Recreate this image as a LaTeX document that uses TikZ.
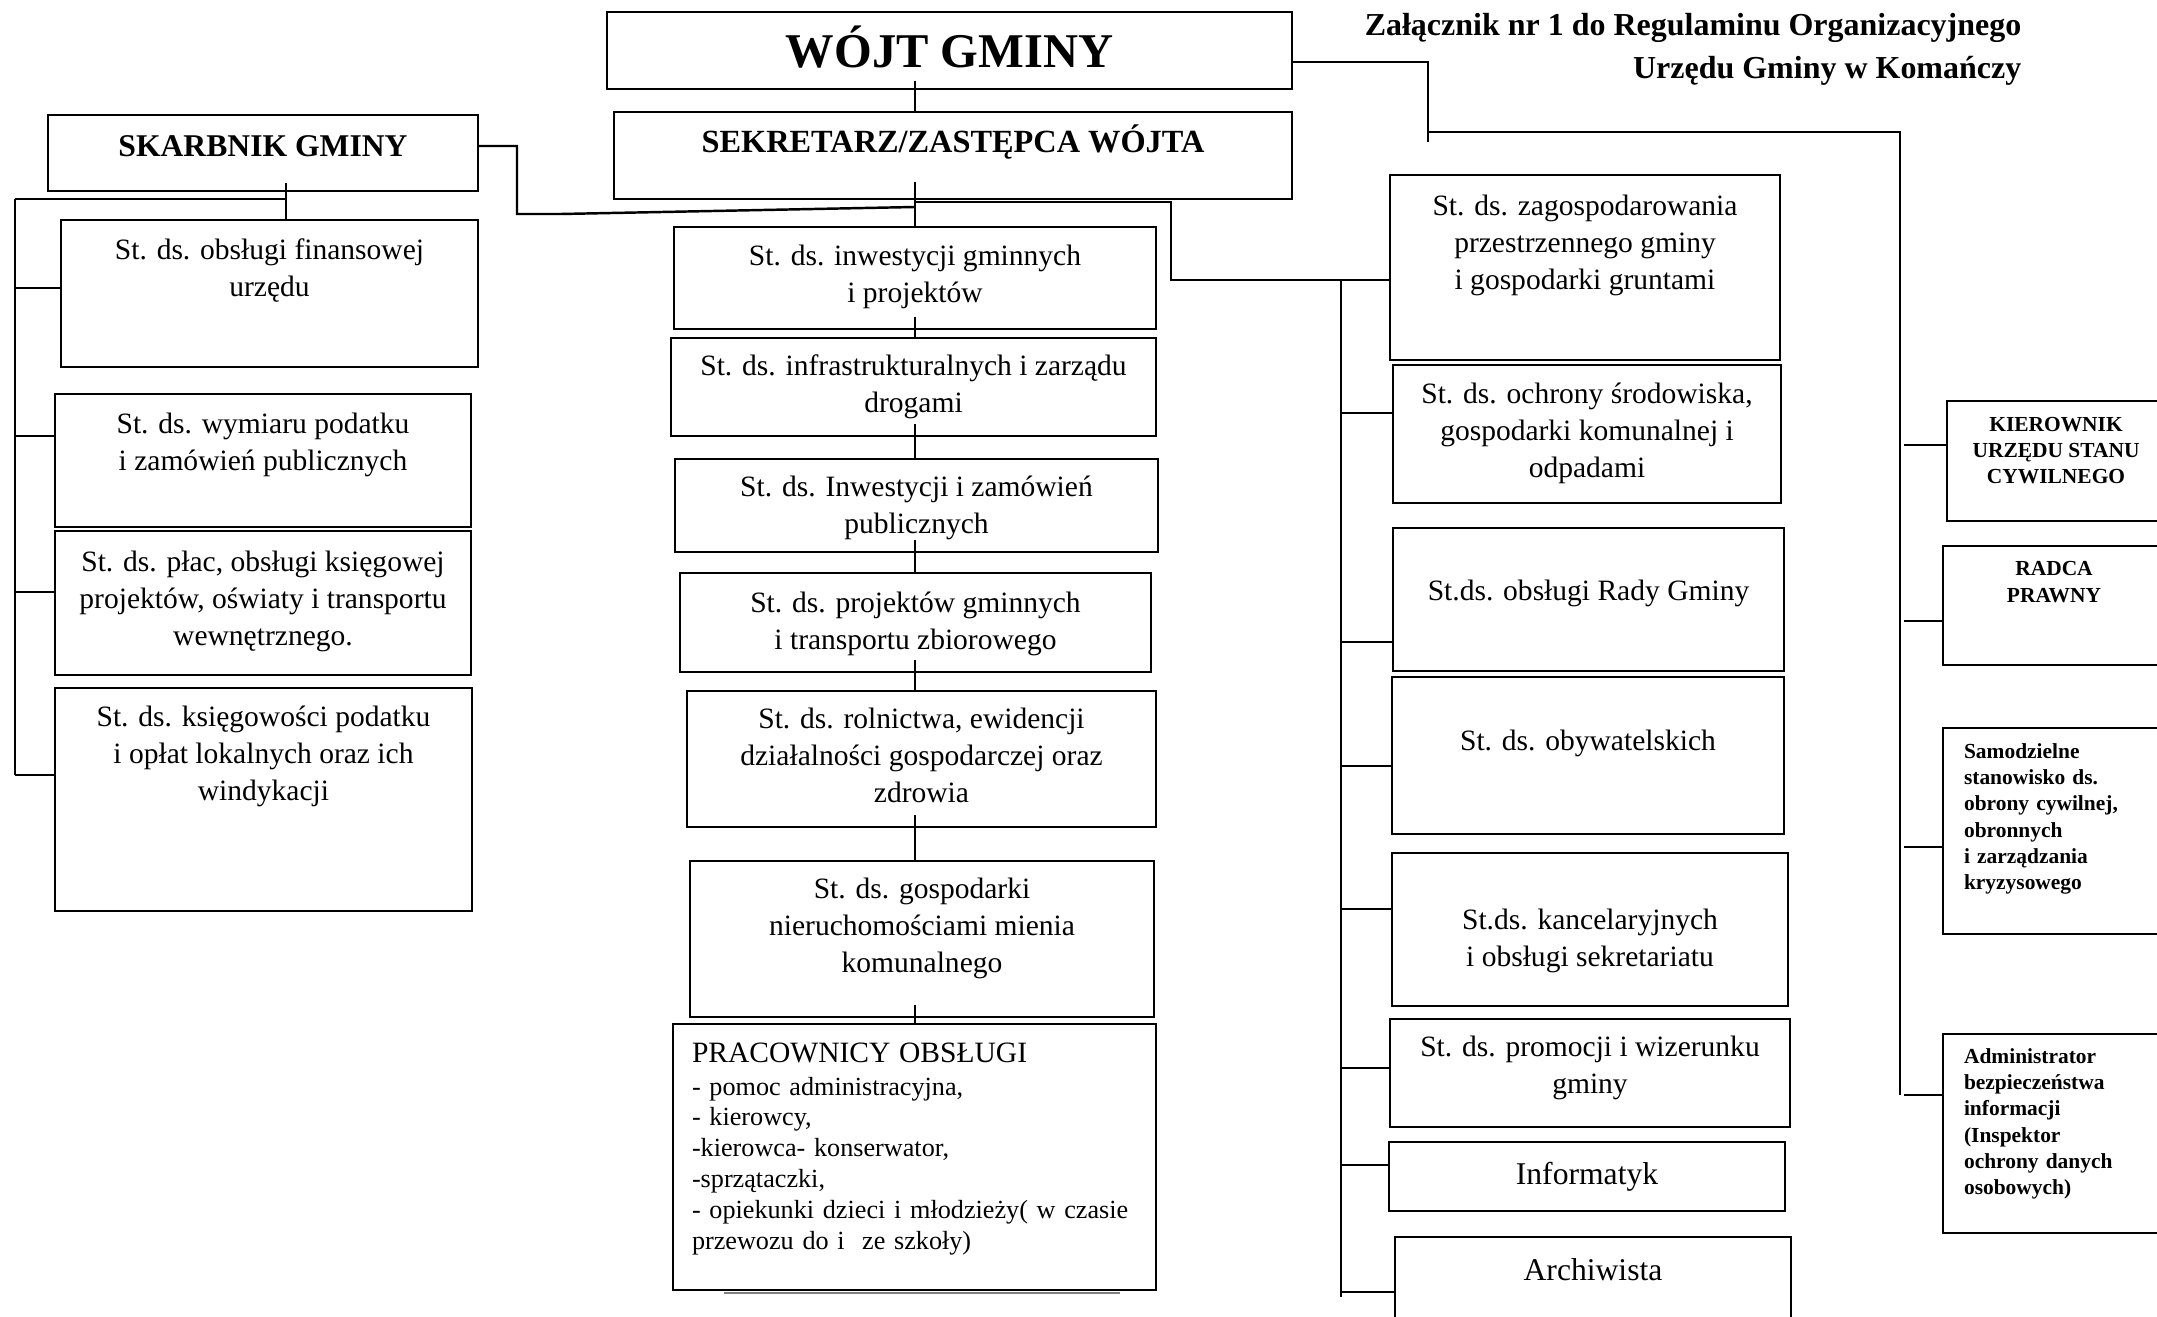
\documentclass[tikz,border=0pt]{standalone}
\usepackage{fontspec}
\setmainfont{Liberation Serif}
\usetikzlibrary{calc}

\begin{document}
\begin{tikzpicture}[x=1cm, y=-1cm,
  unit/.style={draw, line width=0.8pt, inner sep=0pt, outer sep=0pt, anchor=north west, align=center, font=\fontsize{8.4}{10.6}\selectfont},
  small/.style={unit, font=\bfseries\fontsize{6.1}{7.4}\selectfont},
  smallleft/.style={unit, align=left, text width=1.80cm, inner xsep=0.21cm, font=\bfseries\fontsize{6.1}{7.5}\selectfont},
  wire/.style={line width=0.7pt}]

\useasboundingbox (0,0) rectangle (21.57,13.17);

% Heads
\node[unit, font=\bfseries\fontsize{13.8}{16}\selectfont, minimum width=6.85cm, text height=0.56cm, text depth=0.21cm] (wojt) at (6.07,0.12) {WÓJT GMINY};
\node[unit, font=\bfseries\fontsize{9.2}{11}\selectfont, minimum width=6.78cm, text height=0.41cm, text depth=0.46cm] (sekr) at (6.14,1.12) {SEKRETARZ/ZASTĘPCA WÓJTA};
\node[unit, font=\bfseries\fontsize{9}{11}\selectfont, minimum width=4.30cm, text height=0.42cm, text depth=0.34cm] (skarb) at (0.48,1.15) {SKARBNIK GMINY};
\node[font=\bfseries\fontsize{9.1}{12.2}\selectfont, align=right, anchor=north east, inner sep=0pt, text height=0.73cm] (annex) at (20.22,0.05) {Załącznik nr 1 do Regulaminu Organizacyjnego\\Urzędu Gminy w Komańczy};

% Treasurer column
\node[unit, minimum width=4.17cm, text height=0.764cm, text depth=0.706cm] (fin) at (0.61,2.20) {St. ds. obsługi finansowej\\urzędu};
\node[unit, minimum width=4.16cm, text height=0.764cm, text depth=0.566cm] (wym) at (0.55,3.94) {St. ds. wymiaru podatku\\i zamówień publicznych};
\node[unit, minimum width=4.16cm, text height=1.148cm, text depth=0.292cm] (plac) at (0.55,5.31) {St. ds. płac, obsługi księgowej\\projektów, oświaty i transportu\\wewnętrznego.};
\node[unit, minimum width=4.17cm, text height=1.128cm, text depth=1.102cm] (ksieg) at (0.55,6.88) {St. ds. księgowości podatku\\i opłat lokalnych oraz ich\\windykacji};

% Secretary column
\node[unit, minimum width=4.82cm, text height=0.754cm, text depth=0.266cm] (inw) at (6.74,2.27) {St. ds. inwestycji gminnych\\i projektów};
\node[unit, minimum width=4.85cm, text height=0.744cm, text depth=0.236cm] (infra) at (6.71,3.38) {St. ds. infrastrukturalnych i zarządu\\drogami};
\node[unit, minimum width=4.83cm, text height=0.744cm, text depth=0.186cm] (inwz) at (6.75,4.59) {St. ds. Inwestycji i zamówień\\publicznych};
\node[unit, minimum width=4.71cm, text height=0.764cm, text depth=0.226cm] (proj) at (6.80,5.73) {St. ds. projektów gminnych\\i transportu zbiorowego};
\node[unit, minimum width=4.69cm, text height=1.118cm, text depth=0.242cm] (roln) at (6.87,6.91) {St. ds. rolnictwa, ewidencji\\działalności gospodarczej oraz\\zdrowia};
\node[unit, minimum width=4.64cm, text height=1.118cm, text depth=0.442cm] (nier) at (6.90,8.61) {St. ds. gospodarki\\nieruchomościami mienia\\komunalnego};
\node[unit, align=left, text width=4.45cm, inner xsep=0.19cm, text height=0.38cm, text depth=2.28cm, font=\fontsize{7.45}{8.8}\selectfont] (prac) at (6.73,10.24)
  {{\fontsize{8.4}{9.4}\selectfont PRACOWNICY OBSŁUGI}\\[0.6pt]
   - pomoc administracyjna,\\
   - kierowcy,\\
   -kierowca- konserwator,\\
   -sprzątaczki,\\
   \mbox{- opiekunki dzieci i młodzieży( w czasie}\\
   przewozu do i\ \ ze szkoły)};

% Right column
\node[unit, minimum width=3.90cm, text height=1.148cm, text depth=0.702cm] (zag) at (13.90,1.75) {St. ds. zagospodarowania\\przestrzennego gminy\\i gospodarki gruntami};
\node[unit, minimum width=3.88cm, text height=1.128cm, text depth=0.252cm] (ochr) at (13.93,3.65) {St. ds. ochrony środowiska,\\gospodarki komunalnej i\\odpadami};
\node[unit, minimum width=3.91cm, text height=0.72cm, text depth=0.71cm] (rady) at (13.93,5.28) {St.ds. obsługi Rady Gminy};
\node[unit, minimum width=3.92cm, text height=0.73cm, text depth=0.84cm] (obyw) at (13.92,6.77) {St. ds. obywatelskich};
\node[unit, minimum width=3.96cm, text height=1.134cm, text depth=0.396cm] (kanc) at (13.92,8.53) {St.ds. kancelaryjnych\\i obsługi sekretariatu};
\node[unit, minimum width=4.00cm, text height=0.744cm, text depth=0.336cm] (prom) at (13.90,10.19) {St. ds. promocji i wizerunku\\gminy};
\node[unit, font=\fontsize{9}{11}\selectfont, minimum width=3.96cm, text height=0.42cm, text depth=0.27cm] (info) at (13.89,11.42) {Informatyk};
\node[unit, font=\fontsize{9}{11}\selectfont, minimum width=3.96cm, text height=0.43cm, text depth=0.60cm] (arch) at (13.95,12.37) {Archiwista};

% Posts under the head
\node[small, minimum width=2.18cm, text height=0.83cm, text depth=0.37cm] (kier) at (19.47,4.01) {KIEROWNIK\\URZĘDU STANU\\CYWILNEGO};
\node[small, minimum width=2.22cm, text height=0.56cm, text depth=0.63cm] (radca) at (19.43,5.46) {RADCA\\PRAWNY};
\node[smallleft, text height=0.30cm, text depth=1.76cm] (samo) at (19.43,7.28) {Samodzielne\\stanowisko ds.\\obrony cywilnej,\\obronnych\\i zarządzania\\kryzysowego};
\node[smallleft, text height=0.29cm, text depth=1.70cm] (admin) at (19.43,10.34) {Administrator\\bezpieczeństwa\\informacji\\(Inspektor\\ochrony danych\\osobowych)};

\draw[gray, line width=0.8pt] ($(prac.south west)+(0.51,0.03)$) -- ($(prac.south east)+(-0.36,0.03)$);

% Central line
\coordinate (spine) at (9.15,0);
\draw[wire] ($(wojt.south -| spine)+(0,-0.08)$) -- (sekr.north -| spine);
\draw[wire] ($(sekr.south -| spine)+(0,-0.17)$) -- (inw.north -| spine);
\foreach \a/\b in {inw/infra, infra/inwz, inwz/proj, proj/roln, roln/nier, nier/prac}
  \draw[wire] ($(\a.south -| spine)+(0,-0.12)$) -- (\b.north -| spine);

% Branch to the right column
\coordinate (elbow) at (11.71,2.02);
\coordinate (rbus) at (13.41,2.80);
\draw[wire] (spine |- elbow) -- (elbow) |- (zag.west |- rbus);
\draw[wire] (rbus) -- (rbus |- 0,12.97);
\foreach \b/\y in {ochr/4.13, rady/6.42, obyw/7.66, kanc/9.09, prom/10.68, info/11.65, arch/12.92}
  \draw[wire] (rbus |- 0,\y) -- (\b.west |- 0,\y);

% Treasurer
\coordinate (lbus) at (0.15,1.99);
\coordinate (tap) at (2.86,1.99);
\draw[wire] (lbus) -- (tap);
\draw[wire] ($(skarb.south -| tap)+(0,-0.08)$) -- (tap |- fin.north);
\draw[wire] (lbus) -- (lbus |- 0,7.75);
\foreach \b/\y in {fin/2.88, wym/4.36, plac/5.92, ksieg/7.75}
  \draw[wire] (lbus |- 0,\y) -- (\b.west |- 0,\y);
\draw[wire] ($(skarb.east)+(0,-0.07)$) -| (5.17,2.14) -- (5.61,2.14) -- (spine |- 0,2.07);

% Head's own posts
\coordinate (hook) at (14.28,1.32);
\coordinate (fbus) at (19.00,1.32);
\draw[wire] ($(wojt.east)+(0,0.115)$) -| ($(hook)+(0,0.10)$);
\draw[wire] (hook) -- (fbus) -- (fbus |- 0,10.95);
\foreach \b/\y in {kier/4.45, radca/6.21, samo/8.47, admin/10.95}
  \draw[wire] ($(fbus |- 0,\y)+(0.04,0)$) -- (\b.west |- 0,\y);
\end{tikzpicture}
\end{document}
